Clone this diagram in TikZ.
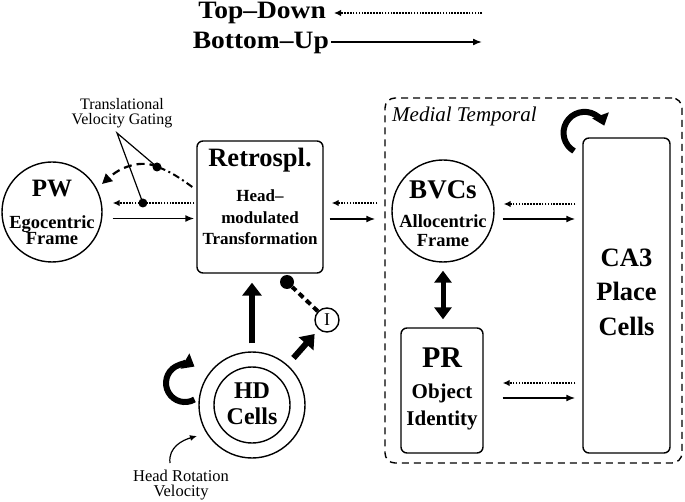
\documentclass[tikz,border=0pt]{standalone}
\usepackage{fontspec}
\setmainfont{Liberation Serif}
\newfontfamily\legendfont{Liberation Serif}[FakeStretch=1.1]
\usetikzlibrary{arrows.meta,calc}
\newcommand\fsz[2]{\fontsize{#1}{#2}\selectfont}
\begin{document}
\begin{tikzpicture}[x=1pt,y=-1pt,
  shapeline/.style={draw, line width=1.4pt, inner sep=0pt},
  cellcircle/.style={shapeline, circle},
  areabox/.style={shapeline, rectangle, rounded corners=6pt},
  lbl/.style={inner sep=0pt, align=center, anchor=base},
  tdarrow/.style={line width=1.8pt, dash pattern=on 1.6pt off 1.3pt, -{Latex[length=7pt,width=6.5pt]}},
  buarrow/.style={line width=1.6pt, -{Latex[length=9pt,width=7pt]}},
  bigarrow/.style={line width=6pt, -{Triangle[length=13pt,width=19pt]}},
  dblarrow/.style={line width=5pt, {Triangle[length=12pt,width=17pt]}-{Triangle[length=12pt,width=17pt]}},
  looparrow/.style={line width=6pt, -{Triangle[length=11pt,width=17pt]}},
  gatedot/.style={circle, fill, inner sep=0pt, minimum size=9pt},
  thinline/.style={line width=1.2pt},
]
\fill[white] (0,0) rectangle (685,502);
\useasboundingbox (0,0) rectangle (685,502);

% legend
\node[lbl, anchor=base east, font=\legendfont\bfseries\fsz{25}{25}] (legtd) at (326,19) {Top\textendash Down};
\node[lbl, anchor=base east, font=\legendfont\bfseries\fsz{25}{25}] (legbu) at (329,49) {Bottom\textendash Up};
\coordinate (tdfree) at (482,13);
\coordinate (bufree) at (482,42);
\draw[tdarrow, shorten >=8pt] (tdfree) -- (legtd.east |- tdfree);
\draw[buarrow, shorten <=2pt] (legbu.east |- bufree) -- (bufree);

% medial temporal frame
\node[draw, line width=1.4pt, dash pattern=on 7pt off 5pt, rounded corners=10pt,
      minimum width=297pt, minimum height=365pt, inner sep=0pt] (mtl) at (533.5,280.5) {};
\node[lbl, anchor=base west, font=\itshape\fsz{21}{21}] (mtltxt) at (392,122) {Medial Temporal};

% shapes
\node[cellcircle, minimum size=100pt] (pw) at (52,212) {};
\node[areabox, minimum width=126pt, minimum height=132pt] (rs) at (260,207) {};
\node[cellcircle, minimum size=102pt] (bvc) at (443,211) {};
\node[areabox, minimum width=82pt, minimum height=125pt] (pr) at (442,390.5) {};
\node[areabox, minimum width=87pt, minimum height=315pt] (ca3) at (626.5,295.5) {};
\node[cellcircle, minimum size=106pt] (hdo) at (252,405) {};
\node[cellcircle, minimum size=76pt] (hdi) at (252,405) {};
\node[cellcircle, minimum size=24pt, font=\fsz{18}{18}] (inh) at (327,320) {I};
\node[gatedot, minimum size=14pt] (inhdot) at (287,282) {};

% texts (multi-line nodes: base = baseline of last line)
\node[lbl, font=\bfseries\fsz{25}{25}] (pwt) at (52,197) {PW};
\node[lbl, font=\bfseries\fsz{18.5}{16.5}] (pws) at (52,245) {Egocentric\\Frame};
\node[lbl, font=\bfseries\fsz{26.5}{26.5}] (rst) at (260,167) {Retrospl.};
\node[lbl, font=\bfseries\fsz{17}{21.5}] (rss) at (260,245) {Head\textendash\\modulated\\Transformation};
\node[lbl, font=\bfseries\fsz{27}{27}] (bvct) at (443,199) {BVCs};
\node[lbl, font=\bfseries\fsz{18.5}{19}] (bvcs) at (443,247) {Allocentric\\Frame};
\node[lbl, font=\bfseries\fsz{26.5}{35}] (ca3t) at (626.5,336) {CA3\\Place\\Cells};
\node[lbl, font=\bfseries\fsz{30}{30}] (prt) at (442,367) {PR};
\node[lbl, font=\bfseries\fsz{21}{27}] (prs) at (442,425) {Object\\Identity};
\node[lbl, font=\bfseries\fsz{24}{26}] (hdt) at (252,424) {HD\\Cells};
\node[lbl, font=\fsz{16}{15}] (vgt) at (122,125) {Translational\\Velocity Gating};
\node[lbl, font=\fsz{16.5}{15}] (hrv) at (181,496) {Head Rotation\\Velocity};

% PW <-> Retrospl.
\draw[tdarrow] ($(rs.west)+(-2,-4)$) -- coordinate[pos=0.63] (g2) ($(pw.east)+(10,-9)$);
\draw[buarrow] ($(pw.east)+(10,6.5)$) -- ($(rs.west)+(-2,11.5)$);
% Retrospl. <-> BVCs
\draw[tdarrow] ($(bvc.west)+(-14,-8)$) -- ($(rs.east)+(8,-4)$);
\draw[buarrow] ($(rs.east)+(6,12)$) -- ($(bvc.west)+(-16,8)$);
% BVCs <-> CA3
\draw[tdarrow] ($(ca3.west)+(-7,-91.5)$) -- ($(bvc.east)+(9,-7)$);
\draw[buarrow] ($(bvc.east)+(8,8)$) -- ($(ca3.west)+(-7,-76.5)$);
% PR <-> CA3
\draw[tdarrow] ($(ca3.west)+(-7,87.5)$) -- ($(pr.east)+(19,-7.5)$);
\draw[buarrow] ($(pr.east)+(19,7.5)$) -- ($(ca3.west)+(-7,102.5)$);
% BVCs <-> PR
\draw[dblarrow, shorten <=8pt, shorten >=8pt] (bvc.south) -- (bvc.south |- pr.north);
% HD -> Retrospl., HD -> I
\draw[bigarrow, shorten <=8pt, shorten >=9pt] (hdo.north) -- (hdo.north |- rs.south);
\draw[bigarrow, shorten <=9pt, shorten >=6pt] (hdo) -- (inh);
\draw[line width=4pt, dash pattern=on 6pt off 4pt] (inh) -- (inhdot);

% translational velocity gating
\coordinate (vg0) at ($(rs.west)+(-4,-20)$);
\coordinate (g1) at (157,167);
\coordinate (vg1) at (102,184);
\coordinate (apex) at (117,133);
\draw[line width=2pt, dash pattern=on 7pt off 3.5pt on 2pt off 3.5pt] (vg0) .. controls (180,178) and (168,170) .. (g1);
\draw[line width=2.2pt, dash pattern=on 8pt off 5pt, -{Triangle[length=10pt,width=10pt]}] (g1) .. controls (147,161) and (125,163) .. (vg1);
\draw[thinline] (g1) -- (apex) -- (g2);
\node[gatedot] (gd1) at (g1) {};
\node[gatedot] (gd2) at (g2) {};

% recurrent loops
\draw[looparrow] ($(hdo.center)+(-57.5,-5.5)$) arc[start angle=-60, end angle=-300, radius=19pt];
\draw[looparrow] ($(ca3.north west)+(-8.25,13.75)$) arc[start angle=-120, end angle=-340, radius=21pt];

% head rotation velocity input
\coordinate (hrv0) at (170,463);
\coordinate (hrv1) at (197,436);
\draw[line width=1.2pt, -{Latex[length=7pt,width=6pt]}] (hrv0) .. controls (168,447) and (183,440) .. (hrv1);
\end{tikzpicture}
\end{document}
